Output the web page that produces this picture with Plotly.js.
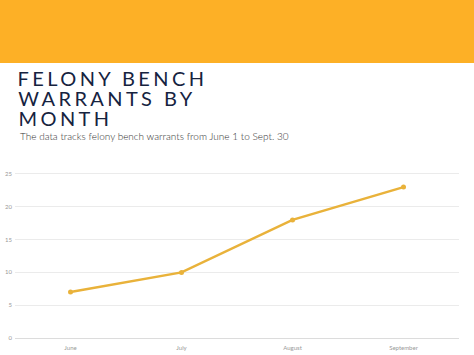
<!DOCTYPE html>
<html><head><meta charset="utf-8">
<script src="https://cdn.plot.ly/plotly-3.0.1.min.js"></script>
<style>
html,body{margin:0;padding:0;background:#fff;}
#chart{width:474px;height:355px;}
g.annotation[data-index="0"] text, g.annotation[data-index="1"] text, g.annotation[data-index="2"] text{letter-spacing:3.4px;}
</style></head>
<body><div id="chart"></div>
<script>
const months = ["June","July","August","September"];
const warrants = [7,10,18,23];
const titleLines = ["FELONY BENCH","WARRANTS BY","MONTH"];
const subtitle = "The data tracks felony bench warrants from June 1 to Sept. 30";

const L=15,R=15,T=172,B=17,W=474,H=355;
const ph=H-T-B, pw=W-L-R;
const py = p => (H-B-p)/ph;      // pixel y -> paper y
const px = p => (p-L)/pw;        // pixel x -> paper x
const LS=3.4;

const titleY=[78,98,118];
const annotations = titleLines.map((t,i)=>({
  text:t, xref:'paper', yref:'paper', x:px(16), y:py(titleY[i]),
  xanchor:'left', yanchor:'middle', showarrow:false, xshift:t.length*LS/2,
  font:{family:'Lato', size:20, weight:400, color:'#16233f'}
}));
annotations.push({text:subtitle, xref:'paper', yref:'paper', x:px(18), y:py(136),
  xanchor:'left', yanchor:'middle', showarrow:false,
  font:{family:'Lato', size:10, weight:300, color:'#333'}});

const data=[{x:months, y:warrants, type:'scatter', mode:'lines+markers',
  line:{color:'#E9B23A', width:2.5}, marker:{color:'#E9B23A', size:5}, hoverinfo:'none'}];

const layout={
  width:W, height:H, margin:{l:L,r:R,t:T,b:B},
  paper_bgcolor:'#fff', plot_bgcolor:'#fff', showlegend:false,
  xaxis:{range:[-0.5,3.5], showgrid:false, zeroline:false, showline:false,
    tickfont:{family:'Lato', size:6, color:'#999'}, ticks:'', ticklabelstandoff:5},
  yaxis:{range:[0,25.3], tickvals:[0,5,10,15,20,25], showgrid:true, gridcolor:'#ebebeb', gridwidth:1,
    zeroline:true, zerolinecolor:'#dcdcdc', showline:false,
    tickfont:{family:'Lato', size:6, color:'#999'}, ticks:'', ticklabelstandoff:2},
  shapes:[{type:'rect', xref:'paper', yref:'paper', x0:px(-5), x1:px(W+5), y0:py(63), y1:py(-5),
    fillcolor:'#FDB026', line:{width:0}, layer:'above'}],
  annotations:annotations
};
Plotly.newPlot('chart', data, layout, {staticPlot:true, displayModeBar:false});
</script></body></html>
